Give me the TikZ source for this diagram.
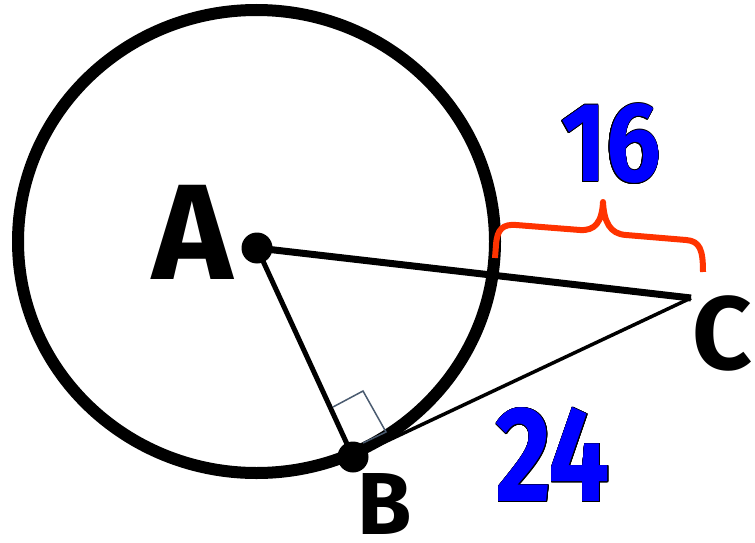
\documentclass[tikz,border=0pt]{standalone}
\usepackage{fontspec}
\setsansfont{Fira Sans}
\usepackage{contour}
\contourlength{0.7pt}
\definecolor{numblue}{HTML}{0000FF}
\definecolor{bracered}{HTML}{FF3300}
\definecolor{sqgray}{HTML}{4A5B70}
\begin{document}
\begin{tikzpicture}[x=1pt,y=-1pt,
  ptlabel/.style={inner sep=0pt,font=\sffamily\bfseries},
  numlabel/.style={inner sep=0pt,font=\sffamily\bfseries},
  dotpt/.style={circle,fill=black,inner sep=0pt,minimum size=31pt},
  seg/.style={black}]
\useasboundingbox (0,0) rectangle (755,543);
\fill[white] (0,0) rectangle (755,543);
% circle
\draw[line width=12pt] (256.5,241.5) ellipse [x radius=238.5, y radius=231.5];
% points
\coordinate (A) at (257,248);
\coordinate (B) at (353,457);
\coordinate (C) at (691,298);
% segments
\draw[seg,line width=7pt] (A) -- (C);
\draw[seg,line width=5pt] (A) -- (B);
\draw[seg,line width=3.5pt] (B) -- (C);
% right angle mark
\draw[sqgray,line width=1.5pt,line join=miter] (333,407) -- (363,391) -- (386,432) -- (363,443);
\node[dotpt] (dA) at (A) {};
\node[dotpt] (dB) at (B) {};
% brace
\draw[bracered,line width=6pt,line join=round]
  (495,258) -- (496,245) .. controls (497,229) and (503,224) .. (516,225)
  -- (580,230) .. controls (595,231) and (602,222) .. (603,202)
  .. controls (604,222) and (610,234) .. (626,235)
  -- (686,240) .. controls (700,241) and (703,250) .. (703,272);
% labels
\node[ptlabel,font=\sffamily\bfseries\fontsize{136}{136}\selectfont] (lA) at (193,232) {A};
\node[ptlabel,font=\sffamily\bfseries\fontsize{88}{88}\selectfont] (lB) at (385,504) {B};
\node[ptlabel,font=\sffamily\bfseries\fontsize{104}{104}\selectfont] (lC) at (722,333) {C};
\node[numlabel,font=\sffamily\bfseries\fontsize{113}{113}\selectfont] (n16) at (611,144) {\scalebox{0.86}[1]{\contour{black}{\textcolor{numblue}{16}}}};
\node[numlabel,font=\sffamily\bfseries\fontsize{136}{136}\selectfont] (n24) at (553,455) {\scalebox{0.8}[1]{\contour{black}{\textcolor{numblue}{24}}}};
\end{tikzpicture}
\end{document}
